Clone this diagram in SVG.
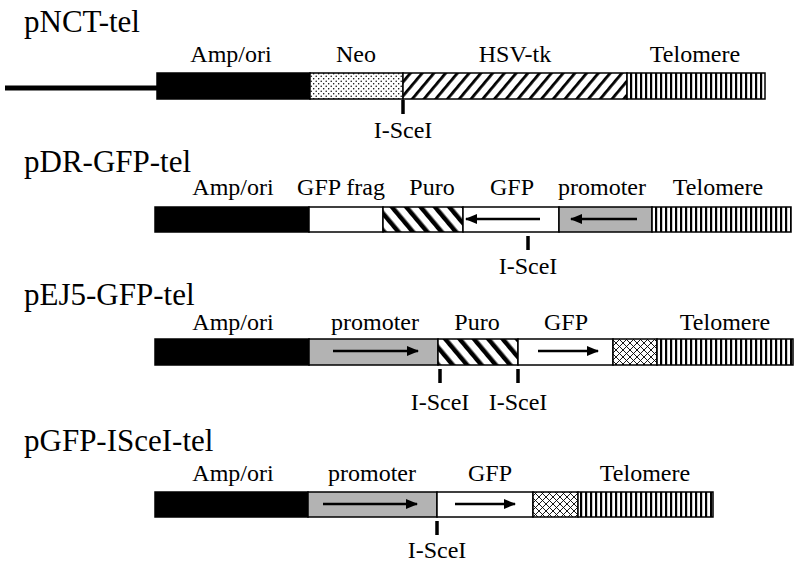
<svg xmlns="http://www.w3.org/2000/svg" width="800" height="567" viewBox="0 0 800 567">
<defs>
<pattern id="dots" width="5" height="5" patternUnits="userSpaceOnUse"><rect width="5" height="5" fill="#fff"/><circle cx="1.2" cy="1.2" r="0.75" fill="#000"/><circle cx="3.7" cy="3.7" r="0.75" fill="#000"/></pattern>
<pattern id="fwd" width="9" height="9" patternUnits="userSpaceOnUse" patternTransform="rotate(40)"><rect width="9" height="9" fill="#fff"/><rect width="2.8" height="9" fill="#000"/></pattern>
<pattern id="back" width="11" height="11" patternUnits="userSpaceOnUse" patternTransform="rotate(-40)"><rect width="11" height="11" fill="#fff"/><rect width="4.5" height="11" fill="#000"/></pattern>
<pattern id="vert" width="5" height="10" patternUnits="userSpaceOnUse"><rect width="5" height="10" fill="#fff"/><rect width="2.2" height="10" fill="#000"/></pattern>
<pattern id="cross" width="7" height="7" patternUnits="userSpaceOnUse"><rect width="7" height="7" fill="#fff"/><path d="M0,0L7,7M7,0L0,7" stroke="#000" stroke-width="0.9"/></pattern>
<marker id="ah" viewBox="0 0 10 10" refX="9" refY="5" markerWidth="5" markerHeight="5" orient="auto-start-reverse"><path d="M0,1L10,5L0,9z" fill="#000"/></marker>
</defs>
<style>
.t{font-family:"Liberation Serif","Times New Roman",serif;font-size:31px;fill:#000}
.l{font-family:"Liberation Serif","Times New Roman",serif;font-size:24px;fill:#000;text-anchor:middle}
.s{stroke:#000;stroke-width:1.5}
.ar{stroke:#000;stroke-width:2.5;fill:none;marker-end:url(#ah)}
.tick{stroke:#000;stroke-width:3.5}
</style>

<g id="pNCT">
<text class="t" x="24" y="32">pNCT-tel</text>
<line x1="5" y1="88" x2="157" y2="88" stroke="#000" stroke-width="5"/>
<rect class="s" x="157" y="73" width="153" height="26" fill="#000"/>
<rect class="s" x="310" y="73" width="93" height="26" fill="url(#dots)"/>
<rect class="s" x="403" y="73" width="224" height="26" fill="url(#fwd)"/>
<rect class="s" x="627" y="73" width="138" height="26" fill="url(#vert)"/>
<text class="l" x="231" y="62">Amp/ori</text>
<text class="l" x="356" y="62">Neo</text>
<text class="l" x="515" y="62">HSV-tk</text>
<text class="l" x="695" y="62">Telomere</text>
<line class="tick" x1="403" y1="100" x2="403" y2="114"/>
<text class="l" x="403" y="138">I-SceI</text>
</g>

<g id="pDR">
<text class="t" x="24" y="172">pDR-GFP-tel</text>
<rect class="s" x="155" y="207" width="154" height="25" fill="#000"/>
<rect class="s" x="309" y="207" width="74" height="25" fill="#fff"/>
<rect class="s" x="383" y="207" width="80" height="25" fill="url(#back)"/>
<rect class="s" x="463" y="207" width="96" height="25" fill="#fff"/>
<rect class="s" x="559" y="207" width="93" height="25" fill="#b3b3b3"/>
<rect class="s" x="652" y="207" width="139" height="25" fill="url(#vert)"/>
<line class="ar" x1="540" y1="219" x2="466" y2="219"/>
<line class="ar" x1="637" y1="219" x2="571" y2="219"/>
<text class="l" x="233" y="195">Amp/ori</text>
<text class="l" x="341" y="195">GFP frag</text>
<text class="l" x="432" y="195">Puro</text>
<text class="l" x="512" y="195">GFP</text>
<text class="l" x="602" y="195">promoter</text>
<text class="l" x="718" y="195">Telomere</text>
<line class="tick" x1="528" y1="236" x2="528" y2="250"/>
<text class="l" x="528" y="274">I-SceI</text>
</g>

<g id="pEJ5">
<text class="t" x="24" y="305">pEJ5-GFP-tel</text>
<rect class="s" x="155" y="339" width="154" height="26" fill="#000"/>
<rect class="s" x="309" y="339" width="129" height="26" fill="#b3b3b3"/>
<rect class="s" x="438" y="339" width="80" height="26" fill="url(#back)"/>
<rect class="s" x="518" y="339" width="95" height="26" fill="#fff"/>
<rect class="s" x="613" y="339" width="44" height="26" fill="url(#cross)"/>
<rect class="s" x="657" y="339" width="136" height="26" fill="url(#vert)"/>
<line class="ar" x1="333" y1="351" x2="418" y2="351"/>
<line class="ar" x1="538" y1="351" x2="598" y2="351"/>
<text class="l" x="233" y="330">Amp/ori</text>
<text class="l" x="375" y="330">promoter</text>
<text class="l" x="477" y="330">Puro</text>
<text class="l" x="566" y="330">GFP</text>
<text class="l" x="725" y="330">Telomere</text>
<line class="tick" x1="440" y1="369" x2="440" y2="383"/>
<line class="tick" x1="518" y1="369" x2="518" y2="383"/>
<text class="l" x="440" y="410">I-SceI</text>
<text class="l" x="518" y="410">I-SceI</text>
</g>

<g id="pGFP">
<text class="t" x="24" y="451">pGFP-ISceI-tel</text>
<rect class="s" x="155" y="492" width="153" height="25" fill="#000"/>
<rect class="s" x="308" y="492" width="129" height="25" fill="#b3b3b3"/>
<rect class="s" x="437" y="492" width="96" height="25" fill="#fff"/>
<rect class="s" x="533" y="492" width="45" height="25" fill="url(#cross)"/>
<rect class="s" x="578" y="492" width="135" height="25" fill="url(#vert)"/>
<line class="ar" x1="323" y1="504" x2="417" y2="504"/>
<line class="ar" x1="455" y1="504" x2="515" y2="504"/>
<text class="l" x="233" y="481">Amp/ori</text>
<text class="l" x="372" y="481">promoter</text>
<text class="l" x="490" y="481">GFP</text>
<text class="l" x="645" y="481">Telomere</text>
<line class="tick" x1="437" y1="521" x2="437" y2="535"/>
<text class="l" x="437" y="558">I-SceI</text>
</g>
</svg>
